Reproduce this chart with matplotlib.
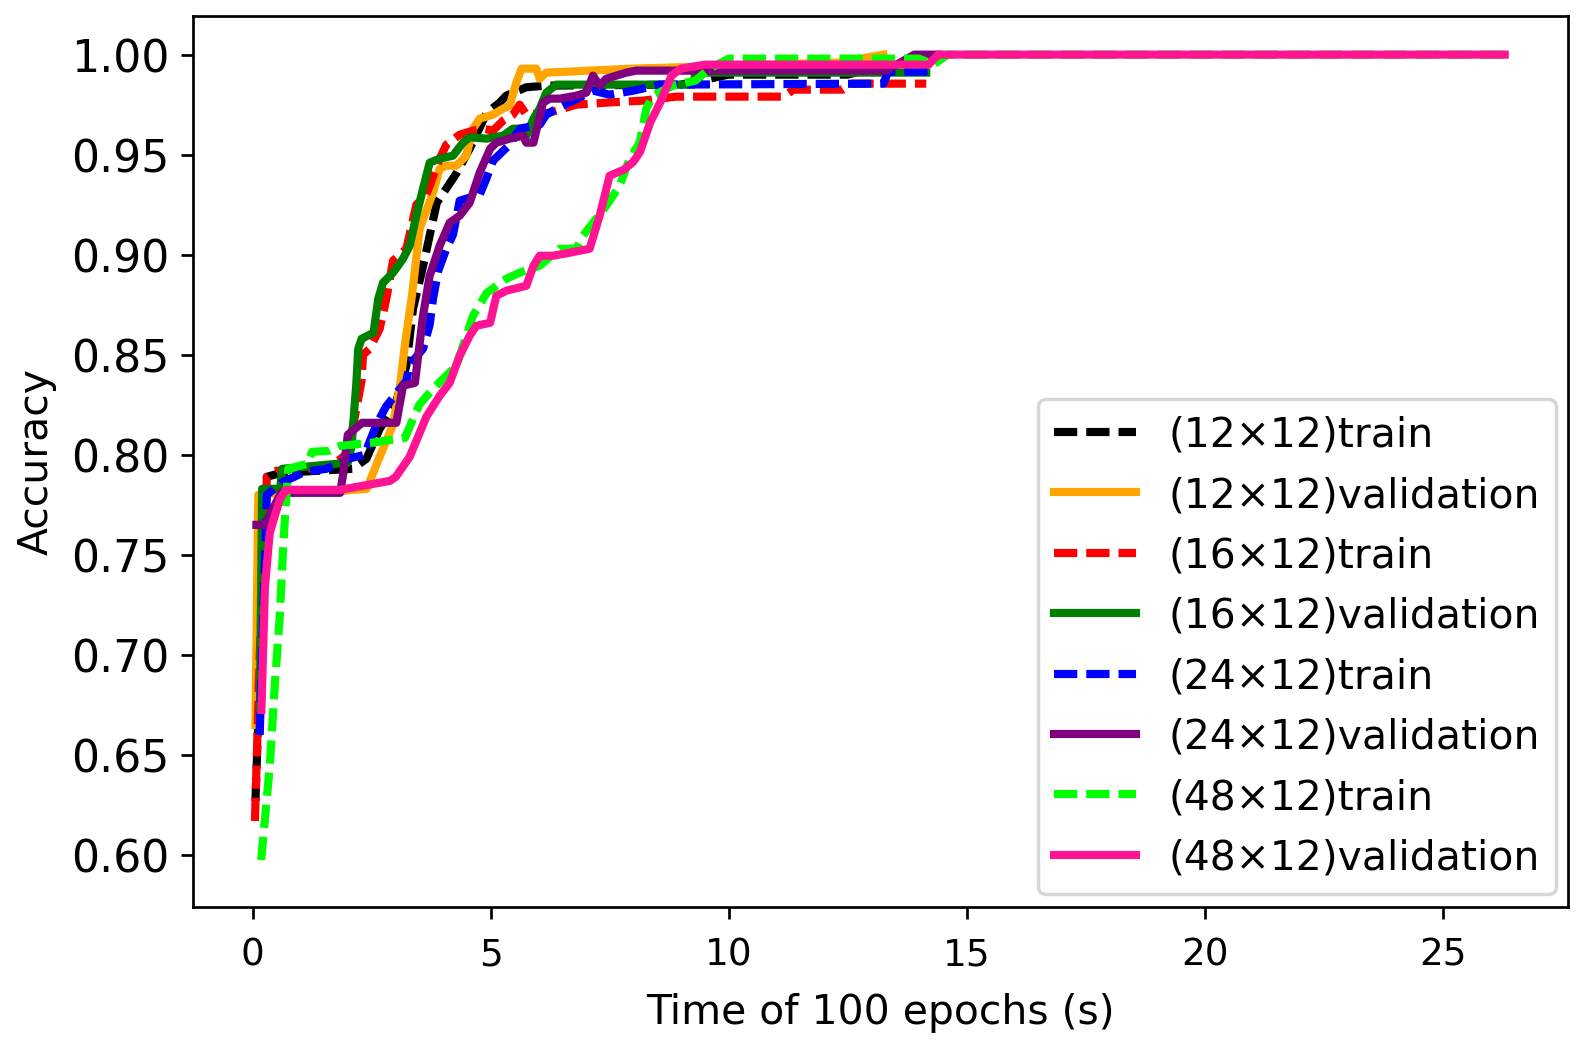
import matplotlib
matplotlib.use("Agg")
import matplotlib.pyplot as plt

# time (s) and accuracy
t_12_train = [0.06, 0.3, 0.6, 2.1, 2.39, 2.67, 3.0, 3.23, 3.37, 3.55, 3.87, 4.29, 4.56, 4.92,
              5.19, 5.33, 5.75, 6.17, 9.0, 10.0, 12.5, 13.3]
acc_12_train = [0.627, 0.789, 0.791, 0.793, 0.798, 0.813, 0.825, 0.8445, 0.873, 0.891, 0.926,
                0.941, 0.953, 0.971, 0.976, 0.9795, 0.9837, 0.9845, 0.985, 0.99, 0.99, 0.995]

t_12_val = [0.06, 0.12, 0.6, 1.86, 2.4, 2.6, 2.95, 3.1, 3.2, 3.35, 3.51, 3.79, 3.93, 4.07, 4.28,
            4.49, 4.63, 4.77, 5.05, 5.26, 5.40, 5.54, 5.65, 5.96, 6.03, 6.17, 8.0, 12.3, 13.25]
acc_12_val = [0.665, 0.78, 0.781, 0.782, 0.783, 0.795, 0.815, 0.835, 0.855, 0.88, 0.913, 0.931,
              0.943, 0.9445, 0.9445, 0.9495, 0.963, 0.968, 0.970, 0.973, 0.9745, 0.986, 0.993,
              0.993, 0.988, 0.991, 0.993, 0.996, 1.0]

t_16_train = [0.05, 0.15, 0.3, 0.5, 1.6, 1.8, 2.0, 2.18, 2.29, 2.32, 2.46, 2.67, 2.81, 2.95, 3.23,
              3.44, 3.65, 3.93, 4.07, 4.35, 4.63, 4.84, 5.05, 5.26, 5.47, 5.61, 5.75, 6.24, 6.80,
              7.43, 8.2, 8.9, 11.15, 11.36, 12.4, 12.6, 14.15]
acc_16_train = [0.617, 0.70, 0.789, 0.792, 0.794, 0.797, 0.801, 0.823, 0.837, 0.850, 0.853, 0.863,
                0.878, 0.897, 0.903, 0.925, 0.930, 0.948, 0.955, 0.960, 0.962, 0.963, 0.962,
                0.967, 0.970, 0.975, 0.970, 0.971, 0.975, 0.976, 0.977, 0.979, 0.979, 0.9825,
                0.9825, 0.9855, 0.9855]

t_16_val = [0.15, 0.2, 0.58, 0.62, 2.0, 2.08, 2.18, 2.22, 2.29, 2.54, 2.64, 2.74, 2.95, 3.16,
            3.30, 3.44, 3.58, 3.72, 3.93, 4.21, 4.42, 4.56, 4.92, 5.26, 5.47, 5.68, 5.75, 5.90,
            6.03, 6.17, 6.38, 9.26, 9.3, 14.15]
acc_16_val = [0.664, 0.783, 0.783, 0.793, 0.796, 0.8045, 0.836, 0.853, 0.858, 0.861, 0.878, 0.886,
              0.891, 0.898, 0.9045, 0.9195, 0.933, 0.946, 0.948, 0.9495, 0.956, 0.9587, 0.958,
              0.9595, 0.963, 0.963, 0.9595, 0.968, 0.973, 0.981, 0.985, 0.985, 0.991, 0.991]

t_24_train = [0.15, 0.3, 0.6, 1.1, 1.55, 2.0, 2.35, 2.6, 2.8, 3.23, 3.30, 3.58, 3.72, 3.79, 3.90,
              4.07, 4.21, 4.35, 4.77, 4.91, 5.05, 5.40, 5.61, 6.03, 6.17, 6.38, 6.73, 7.15, 7.5,
              8.0, 8.56, 13.25, 13.35, 14.3]
acc_24_train = [0.66, 0.78, 0.786, 0.7915, 0.793, 0.798, 0.80, 0.815, 0.824, 0.837, 0.845, 0.853,
                0.865, 0.878, 0.892, 0.903, 0.910, 0.927, 0.930, 0.938, 0.947, 0.955, 0.963,
                0.965, 0.970, 0.973, 0.977, 0.982, 0.980, 0.982, 0.985, 0.9855, 0.9915, 0.9915]

t_24_val = [0.08, 0.25, 0.6, 1.84, 1.9, 2.0, 2.3, 3.02, 3.16, 3.41, 3.58, 3.72, 3.93, 4.14, 4.35,
            4.56, 4.77, 4.99, 5.12, 5.40, 5.68, 5.75, 5.90, 6.10, 6.24, 6.45, 6.80, 7.01, 7.15,
            7.29, 7.43, 7.64, 7.85, 8.06, 13.3, 13.6, 13.9, 14.4]
acc_24_val = [0.765, 0.765, 0.781, 0.781, 0.79, 0.81, 0.816, 0.816, 0.8345, 0.836, 0.8695, 0.8895,
              0.9045, 0.916, 0.9195, 0.926, 0.941, 0.953, 0.956, 0.958, 0.9595, 0.956, 0.956,
              0.976, 0.978, 0.978, 0.9795, 0.981, 0.9895, 0.9845, 0.988, 0.9895, 0.991, 0.992,
              0.992, 0.996, 1.0, 1.0]

t_48_train = [0.18, 0.36, 0.47, 0.57, 0.64, 0.68, 0.75, 1.15, 1.25, 1.6, 1.84, 2.5, 3.2, 3.5, 3.79,
              4.28, 4.63, 4.92, 5.33, 5.61, 6.03, 6.45, 6.80, 6.94, 7.43, 7.71, 7.92, 8.13, 8.27,
              8.41, 8.83, 9.1, 9.3, 9.6, 10.0, 14.0, 14.3, 14.6, 26.3]
acc_48_train = [0.5975, 0.644, 0.686, 0.719, 0.7525, 0.7685, 0.793, 0.7955, 0.8015, 0.802, 0.8045,
                0.806, 0.8085, 0.825, 0.833, 0.8445, 0.8695, 0.881, 0.888, 0.891, 0.8945, 0.903,
                0.903, 0.9095, 0.9245, 0.9345, 0.948, 0.956, 0.973, 0.9795, 0.9845, 0.986, 0.987,
                0.993, 0.998, 0.998, 0.995, 1.0, 1.0]

t_48_val = [0.185, 0.26, 0.36, 0.57, 0.7, 1.84, 2.89, 3.01, 3.3, 3.65, 3.93, 4.14, 4.35, 4.56,
            4.70, 4.99, 5.12, 5.33, 5.75, 5.90, 6.03, 6.31, 6.66, 7.08, 7.29, 7.5, 7.8, 8.0,
            8.14, 8.35, 8.56, 8.8, 9.0, 9.5, 14.2, 14.4, 26.3]
acc_48_val = [0.6725, 0.734, 0.761, 0.7775, 0.7825, 0.7825, 0.787, 0.789, 0.799, 0.819, 0.8295,
              0.836, 0.8495, 0.8595, 0.8645, 0.866, 0.8795, 0.882, 0.8845, 0.8945, 0.8995, 0.8995,
              0.901, 0.903, 0.9195, 0.9395, 0.9425, 0.9465, 0.9515, 0.966, 0.976, 0.9895, 0.993,
              0.995, 0.995, 1.0, 1.0]

dash = (0, (2.85, 1.1))
lw = 2.4

dpi = 245
fig = plt.figure(figsize=(1583.5 / dpi, 1045.5 / dpi), dpi=dpi)
ax = fig.add_axes([193 / 1583, 1 - 906.7 / 1045, 1375 / 1583, 890.2 / 1045])

ax.plot(t_12_train, acc_12_train, color='black', linestyle=dash, lw=lw, label='(12×12)train')
ax.plot(t_12_val, acc_12_val, color='orange', lw=lw, label='(12×12)validation')
ax.plot(t_16_train, acc_16_train, color='red', linestyle=dash, lw=lw, label='(16×12)train')
ax.plot(t_16_val, acc_16_val, color='green', lw=lw, label='(16×12)validation')
ax.plot(t_24_train, acc_24_train, color='blue', linestyle=dash, lw=lw, label='(24×12)train')
ax.plot(t_24_val, acc_24_val, color='purple', lw=lw, label='(24×12)validation')
ax.plot(t_48_train, acc_48_train, color='lime', linestyle=dash, lw=lw, label='(48×12)train')
ax.plot(t_48_val, acc_48_val, color='deeppink', lw=lw, label='(48×12)validation')

ax.set_xlim(-1.25, 27.64)
ax.set_ylim(0.5742, 1.0193)
ax.set_xticks([0, 5, 10, 15, 20, 25])
ax.set_yticks([0.60, 0.65, 0.70, 0.75, 0.80, 0.85, 0.90, 0.95, 1.00])
ax.tick_params(axis='x', labelsize=11, pad=5)
ax.tick_params(axis='y', labelsize=13)
ax.set_xlabel('Time of 100 epochs (s)', fontsize=12, labelpad=6)
ax.set_ylabel('Accuracy', fontsize=12)
ax.legend(loc='lower right', fontsize=12, borderaxespad=0.3)

fig.savefig('out.png', dpi=dpi)
